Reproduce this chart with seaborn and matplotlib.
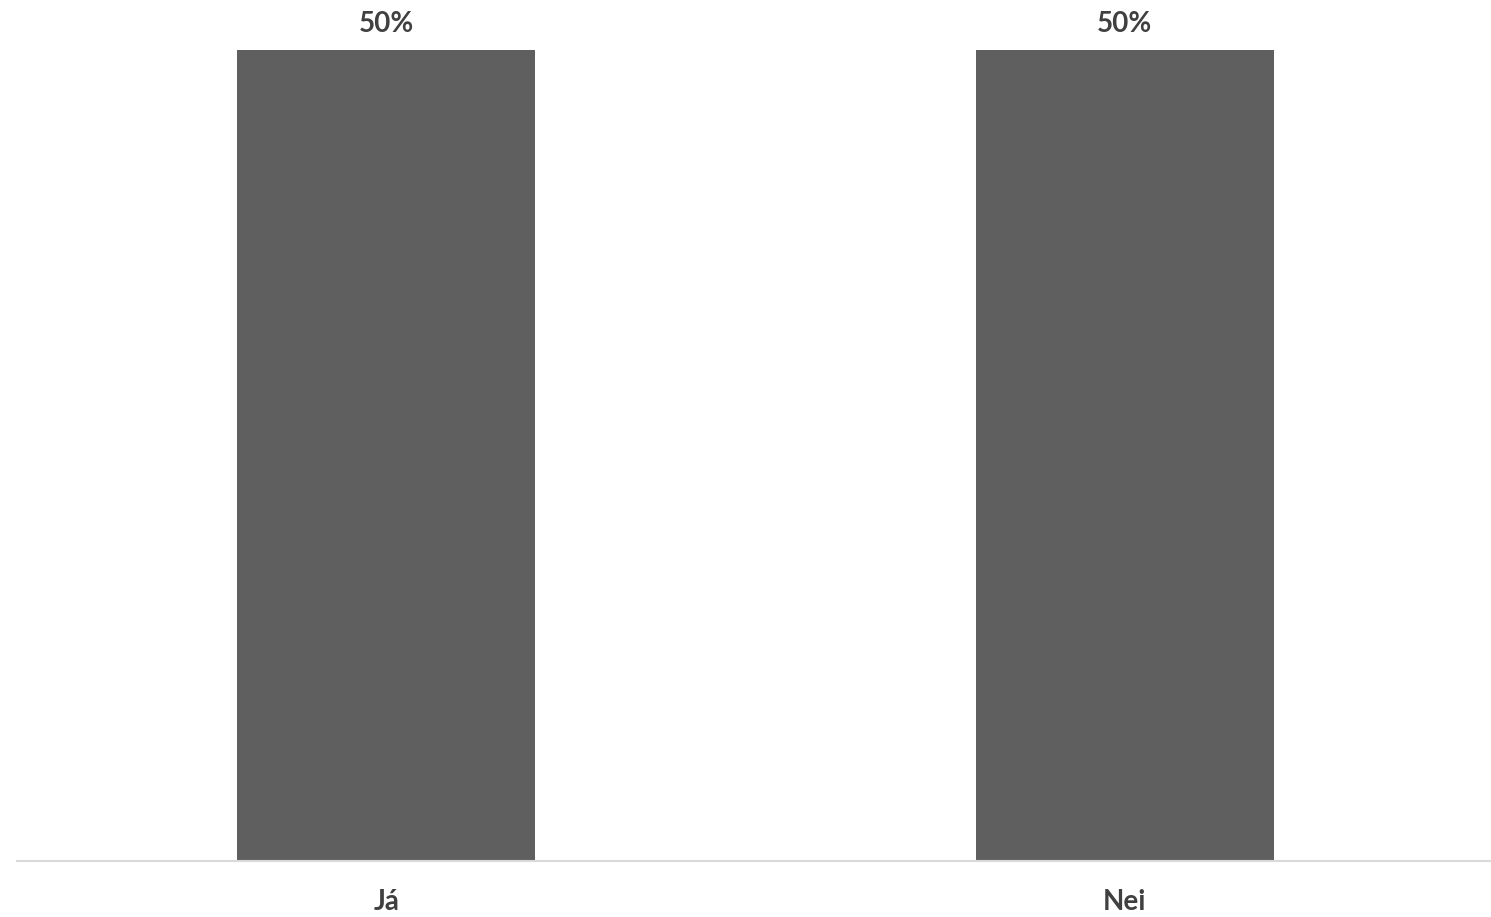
import matplotlib
matplotlib.use("Agg")
import matplotlib.pyplot as plt
import seaborn as sns
import pandas as pd

# Data
categories = ["Já", "Nei"]
values = [50, 50]
value_labels = ["50%", "50%"]

df = pd.DataFrame({"category": categories, "value": values})

sns.set_style("white")
plt.rcParams["font.family"] = ["Lato", "DejaVu Sans"]

fig = plt.figure(figsize=(14.91, 9.17), dpi=100)
ax = fig.add_axes([17 / 1491, 56 / 917, 1477 / 1491, 811 / 917])

sns.barplot(data=df, x="category", y="value", color="#5f5f5f", saturation=1,
            width=0.403, linewidth=0, ax=ax)

ax.set_ylim(0, 50)
ax.set_xlim(-0.5, 1.5)
ax.set_xlabel("")
ax.set_ylabel("")
ax.set_yticks([])
for s in ["top", "right", "left"]:
    ax.spines[s].set_visible(False)
ax.spines["bottom"].set_color("#d9d9d9")
ax.spines["bottom"].set_linewidth(1.5)
ax.tick_params(axis="x", length=0, pad=20, labelsize=20, labelcolor="#404040")
for lbl in ax.get_xticklabels():
    lbl.set_fontweight("bold")

for i, (v, t) in enumerate(zip(values, value_labels)):
    ax.annotate(t, (i, v), xytext=(0, 9), textcoords="offset points",
                ha="center", va="bottom", fontsize=20, fontweight="bold",
                color="#404040", annotation_clip=False)

fig.savefig("out.png", dpi=100)
